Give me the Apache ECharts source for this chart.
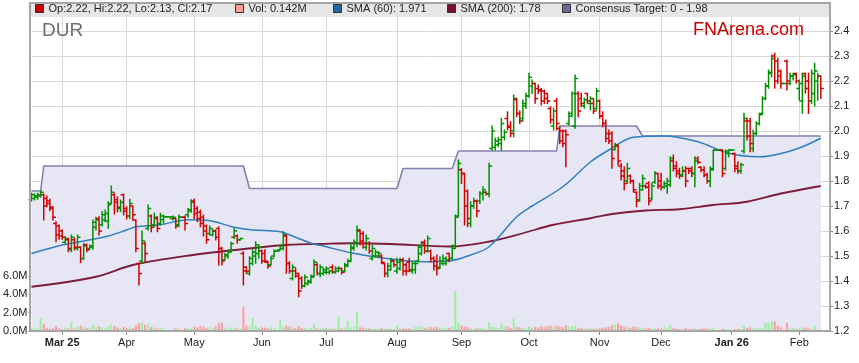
<!DOCTYPE html>
<html><head><meta charset="utf-8">
<script src="https://cdn.jsdelivr.net/npm/echarts@6/dist/echarts.min.js"></script>
<style>html,body{margin:0;padding:0;background:#fff}#c{width:859px;height:363px}</style>
</head><body><div id="c"></div>
<script>
// ---- categories: every weekday (the chart's x scale) ----
const firstDay = '2025-02-17', lastDay = '2026-02-16';
const categories = [];
for (let d = new Date(firstDay + 'T00:00:00Z'); d <= new Date(lastDay + 'T00:00:00Z'); d.setUTCDate(d.getUTCDate() + 1)) {
  const w = d.getUTCDay();
  if (w !== 0 && w !== 6) categories.push(d.toISOString().slice(0, 10));
}
const monthLabels = ['Mar 25','Apr','May','Jun','Jul','Aug','Sep','Oct','Nov','Dec','Jan 26','Feb'];
const priceTicks = [1.2,1.3,1.4,1.5,1.6,1.7,1.8,1.9,2.0,2.1,2.2,2.3,2.4];
const volTicks = [0,2,4,6];

// ---- daily bars [open, high, low, close] (holidays flat) ----
const ohlc = [
[1.725,1.751,1.72,1.745],[1.73,1.748,1.724,1.74],[1.735,1.751,1.727,1.745],[1.74,1.761,1.735,1.755],[1.745,1.748,1.644,1.70],
[1.73,1.74,1.697,1.71],[1.72,1.727,1.681,1.69],[1.695,1.697,1.644,1.655],[1.63,1.637,1.557,1.585],[1.62,1.624,1.567,1.58],
[1.60,1.604,1.567,1.575],[1.555,1.577,1.551,1.57],[1.565,1.571,1.517,1.53],[1.525,1.584,1.517,1.575],[1.565,1.571,1.524,1.535],
[1.53,1.584,1.524,1.575],[1.535,1.537,1.473,1.49],[1.49,1.551,1.487,1.54],[1.545,1.548,1.517,1.525],[1.53,1.544,1.527,1.54],
[1.535,1.644,1.527,1.635],[1.615,1.655,1.604,1.645],[1.65,1.657,1.584,1.60],[1.625,1.677,1.62,1.665],[1.645,1.684,1.637,1.67],
[1.64,1.717,1.611,1.705],[1.71,1.78,1.71,1.755],[1.745,1.751,1.668,1.715],[1.725,1.737,1.677,1.695],[1.69,1.724,1.677,1.715],
[1.745,1.748,1.664,1.68],[1.69,1.697,1.648,1.66],[1.66,1.727,1.65,1.71],[1.70,1.70,1.644,1.665],[1.644,1.644,1.517,1.53],
[1.47,1.471,1.384,1.43],[1.48,1.60,1.471,1.56],[1.55,1.555,1.477,1.51],[1.61,1.704,1.604,1.69],[1.66,1.664,1.597,1.615],
[1.625,1.671,1.617,1.655],[1.65,1.657,1.597,1.61],[1.63,1.671,1.624,1.66],[1.645,1.664,1.631,1.657],[1.657,1.657,1.657,1.657],
[1.657,1.657,1.657,1.657],[1.65,1.66,1.644,1.655],[1.65,1.651,1.611,1.62],[1.625,1.664,1.617,1.655],[1.655,1.655,1.655,1.655],
[1.655,1.66,1.604,1.63],[1.665,1.69,1.655,1.685],[1.68,1.725,1.675,1.715],[1.72,1.728,1.65,1.67],[1.69,1.697,1.637,1.65],
[1.675,1.684,1.617,1.63],[1.655,1.664,1.58,1.60],[1.62,1.624,1.551,1.565],[1.59,1.62,1.584,1.61],[1.585,1.607,1.58,1.60],
[1.60,1.604,1.564,1.575],[1.61,1.617,1.464,1.53],[1.53,1.535,1.464,1.48],[1.485,1.511,1.484,1.505],[1.50,1.524,1.491,1.515],
[1.52,1.555,1.515,1.55],[1.575,1.611,1.57,1.60],[1.58,1.584,1.551,1.565],[1.565,1.571,1.564,1.57],[1.51,1.517,1.384,1.44],
[1.455,1.457,1.431,1.44],[1.43,1.497,1.424,1.49],[1.47,1.524,1.464,1.515],[1.50,1.557,1.471,1.545],[1.51,1.544,1.491,1.535],
[1.52,1.524,1.471,1.48],[1.51,1.525,1.475,1.48],[1.475,1.477,1.451,1.46],[1.465,1.497,1.464,1.49],[1.50,1.524,1.497,1.52],
[1.52,1.52,1.52,1.52],[1.525,1.544,1.524,1.54],[1.53,1.597,1.524,1.585],[1.58,1.584,1.431,1.47],[1.47,1.477,1.431,1.44],
[1.41,1.464,1.404,1.455],[1.44,1.45,1.415,1.42],[1.43,1.431,1.337,1.36],[1.41,1.417,1.371,1.38],[1.38,1.424,1.377,1.415],
[1.39,1.404,1.384,1.40],[1.395,1.424,1.391,1.415],[1.42,1.484,1.417,1.475],[1.465,1.471,1.424,1.43],[1.43,1.464,1.417,1.455],
[1.43,1.451,1.424,1.445],[1.435,1.457,1.428,1.45],[1.435,1.444,1.428,1.44],[1.455,1.464,1.431,1.435],[1.435,1.457,1.431,1.45],
[1.44,1.457,1.437,1.45],[1.45,1.451,1.428,1.435],[1.44,1.471,1.437,1.465],[1.46,1.487,1.457,1.48],[1.48,1.551,1.477,1.535],
[1.53,1.564,1.524,1.555],[1.55,1.62,1.537,1.605],[1.60,1.604,1.544,1.56],[1.59,1.597,1.531,1.55],[1.535,1.584,1.524,1.57],
[1.55,1.557,1.511,1.52],[1.49,1.544,1.484,1.53],[1.50,1.524,1.497,1.515],[1.50,1.517,1.495,1.51],[1.50,1.504,1.471,1.475],
[1.47,1.471,1.417,1.43],[1.43,1.471,1.417,1.46],[1.445,1.491,1.444,1.48],[1.48,1.484,1.457,1.465],[1.44,1.491,1.431,1.475],
[1.45,1.491,1.444,1.48],[1.485,1.491,1.424,1.44],[1.465,1.471,1.424,1.44],[1.475,1.491,1.437,1.445],[1.44,1.477,1.431,1.47],
[1.445,1.477,1.431,1.47],[1.48,1.544,1.477,1.535],[1.51,1.557,1.504,1.55],[1.555,1.564,1.511,1.52],[1.52,1.58,1.515,1.57],
[1.52,1.524,1.477,1.49],[1.49,1.497,1.444,1.46],[1.48,1.504,1.424,1.45],[1.455,1.497,1.45,1.48],[1.47,1.504,1.464,1.49],
[1.47,1.497,1.464,1.485],[1.51,1.511,1.477,1.49],[1.49,1.544,1.488,1.53],[1.54,1.664,1.53,1.655],[1.66,1.884,1.657,1.87],
[1.845,1.85,1.79,1.83],[1.83,1.831,1.624,1.70],[1.76,1.764,1.617,1.65],[1.63,1.717,1.617,1.70],[1.70,1.731,1.691,1.72],
[1.72,1.724,1.657,1.68],[1.72,1.757,1.71,1.75],[1.75,1.777,1.724,1.765],[1.755,1.757,1.744,1.748],[1.75,1.871,1.737,1.86],
[1.93,2.02,1.924,2.00],[1.935,1.971,1.924,1.96],[1.945,1.975,1.937,1.965],[1.95,2.051,1.924,2.03],[1.975,2.004,1.964,1.995],
[2.05,2.077,2.004,2.015],[2.02,2.037,1.977,1.99],[2.00,2.144,1.977,2.13],[2.125,2.131,2.057,2.07],[2.07,2.08,2.03,2.04],
[2.05,2.124,2.04,2.11],[2.10,2.151,2.09,2.14],[2.14,2.231,2.135,2.215],[2.18,2.204,2.15,2.19],[2.19,2.191,2.111,2.13],
[2.17,2.184,2.15,2.16],[2.165,2.17,2.104,2.12],[2.16,2.164,2.11,2.13],[2.15,2.15,2.11,2.12],[2.09,2.097,2.031,2.045],
[2.02,2.091,2.004,2.08],[2.12,2.131,2.004,2.03],[2.01,2.017,1.95,1.96],[2.00,2.004,1.937,1.95],[2.00,2.004,1.857,1.985],
[2.03,2.077,2.024,2.07],[2.06,2.157,2.057,2.15],[2.02,2.224,2.011,2.21],[2.15,2.157,2.057,2.08],[2.13,2.151,2.097,2.11],
[2.10,2.131,2.091,2.125],[2.15,2.151,2.111,2.12],[2.11,2.137,2.084,2.13],[2.11,2.13,2.07,2.08],[2.09,2.171,2.085,2.16],
[2.12,2.124,2.051,2.06],[2.06,2.077,2.017,2.03],[2.03,2.044,1.957,1.97],[1.99,2.004,1.95,1.96],[1.99,1.997,1.851,1.89],
[1.925,1.951,1.924,1.945],[1.94,1.944,1.864,1.88],[1.86,1.87,1.804,1.82],[1.84,1.857,1.764,1.79],[1.80,1.871,1.791,1.85],
[1.82,1.824,1.791,1.80],[1.80,1.804,1.757,1.765],[1.755,1.757,1.697,1.72],[1.725,1.791,1.72,1.78],[1.765,1.824,1.764,1.81],
[1.78,1.784,1.771,1.775],[1.79,1.797,1.704,1.72],[1.73,1.791,1.725,1.78],[1.795,1.837,1.791,1.83],[1.83,1.831,1.77,1.78],
[1.80,1.831,1.764,1.775],[1.775,1.797,1.771,1.79],[1.78,1.811,1.751,1.80],[1.785,1.897,1.777,1.89],[1.88,1.904,1.84,1.85],
[1.86,1.877,1.817,1.83],[1.84,1.851,1.811,1.82],[1.825,1.857,1.817,1.84],[1.84,1.857,1.777,1.80],[1.85,1.851,1.83,1.84],
[1.85,1.857,1.817,1.83],[1.83,1.897,1.777,1.88],[1.89,1.897,1.87,1.875],[1.855,1.857,1.837,1.845],[1.845,1.857,1.817,1.825],
[1.825,1.831,1.791,1.80],[1.80,1.857,1.777,1.845],[1.85,1.924,1.844,1.924],[1.924,1.924,1.924,1.924],[1.924,1.924,1.924,1.924],
[1.924,1.924,1.817,1.83],[1.85,1.924,1.844,1.92],[1.91,1.924,1.897,1.924],[1.924,1.924,1.924,1.924],[1.91,1.911,1.837,1.85],
[1.86,1.877,1.831,1.84],[1.84,1.871,1.831,1.865],[1.92,2.071,1.911,2.05],[2.04,2.051,1.964,1.98],[2.04,2.051,1.917,1.95],
[1.93,2.004,1.917,1.99],[1.99,2.037,1.985,2.03],[2.03,2.071,2.024,2.065],[2.07,2.137,2.067,2.13],[2.13,2.191,2.125,2.18],
[2.18,2.244,2.171,2.235],[2.23,2.304,2.217,2.29],[2.30,2.311,2.171,2.20],[2.28,2.291,2.191,2.22],[2.24,2.244,2.171,2.19],
[2.19,2.19,2.19,2.19],[2.28,2.284,2.164,2.20],[2.19,2.231,2.185,2.22],[2.22,2.231,2.204,2.225],[2.23,2.231,2.191,2.20],
[2.17,2.204,2.124,2.19],[2.12,2.231,2.071,2.22],[2.23,2.231,2.151,2.17],[2.20,2.231,2.07,2.12],[2.12,2.244,2.11,2.23],
[2.15,2.271,2.10,2.24],[2.20,2.231,2.124,2.22],[2.22,2.22,2.13,2.17]
];

// ---- daily volume (millions) ----
const volumes = [
0.35,0.25,0.3,1.45,0.8,0.35,0.25,0.3,0.5,0.3,
0.2,0.35,0.3,1.0,0.3,0.45,0.6,0.45,0.3,0.35,
0.7,0.4,0.5,0.4,0.3,0.5,0.72,0.55,0.4,0.3,
0.45,0.3,0.4,0.3,0.6,0.85,0.9,0.7,0.8,0.45,
0.4,0.3,0.35,0.25,0,0,0.2,0.3,0.25,0,
0.3,0.35,0.3,0.45,0.4,0.6,0.5,0.35,0.45,0.3,
0.5,0.85,0.95,0.4,0.3,0.35,0.4,0.3,0.25,2.65,
0.6,0.45,1.45,0.6,0.35,0.4,0.35,0.3,0.4,0.3,
0,1.2,0.5,0.6,0.5,0.4,0.3,0.55,0.35,0.3,
0.25,0.3,0.75,0.3,0.25,0.3,0.35,0.3,0.25,0.3,
1.55,0.3,0.35,1.1,0.4,0.5,2.1,0.4,0.35,0.3,
0.3,0.25,0.2,0.25,0.3,0.2,0.25,0.3,0.2,0.6,
0.3,0.3,0.25,0.3,0.2,0.45,0.55,0.45,0.35,0.4,
0.45,0.4,0.45,0.35,0.3,0.4,0.35,0.5,4.35,0.9,
0.6,0.5,0.45,0.3,0.25,0.3,0.35,0.3,0.2,0.9,
0.5,0.4,0.35,0.9,0.45,0.5,0.35,1.3,0.45,0.4,
0.35,0.3,0.5,0.35,0.45,0.4,0.5,0.4,0.55,0.6,
0.5,0.55,0.5,0.45,0.6,0.5,0.55,0.6,0.35,0.3,
0.3,0.25,0.3,0.25,0.3,0.3,0.35,0.4,0.45,0.65,
0.7,0.82,0.6,0.5,0.45,0.35,0.5,0.45,0.4,0.35,
0.3,0.35,0.25,0.3,0.3,0.25,0.45,0.3,0.65,0.3,
0.25,0.2,0.25,0.3,0.2,0.25,0.35,0.2,0.25,0.3,
0.25,0.3,0.35,0,0,0.25,0.2,0.15,0,0.2,
0.25,0.2,0.55,0.35,0.4,0.3,0.35,0.3,0.3,0.9,
0.85,1.1,1.05,0.6,0.4,0,0.9,0.35,0.3,0.25,
0.3,0.35,0.4,0.3,0.25,0.55,0.2,0.142
];

// ---- moving averages read at points [day index, value] ----
const sma60 = [[0,1.51],[10,1.544],[18,1.562],[25,1.58],[31,1.604],[34,1.617],[42,1.625],[51,1.645],[57,1.643],[66,1.615],[72,1.604],[81,1.597],[86,1.575],[92,1.547],[95,1.54],[104,1.513],[115,1.491],[128,1.477],[136,1.48],[143,1.504],[149,1.537],[158,1.657],[163,1.70],[173,1.777],[182,1.876],[188,1.924],[196,1.975],[206,1.98],[217,1.957],[227,1.911],[237,1.897],[245,1.913],[251,1.937],[257,1.971]];
const sma200 = [[0,1.377],[21,1.417],[33,1.464],[52,1.503],[73,1.533],[84,1.545],[94,1.548],[104,1.551],[117,1.548],[136,1.538],[150,1.56],[160,1.591],[170,1.625],[182,1.651],[189,1.668],[200,1.682],[211,1.687],[222,1.704],[233,1.717],[244,1.75],[257,1.78]];
// ---- consensus target steps [day index, value] ----
const target = [[0,1.76],[3,1.76],[4,1.86],[69,1.86],[71,1.77],[119,1.77],[121,1.85],[137,1.85],[139,1.92],[171,1.92],[172,2.02],[197,2.02],[199,1.98],[257,1.98]];

const FONT = '"Liberation Sans", Arial, sans-serif';
const isStart = categories.map((c, i) => i > 0 && c.slice(5, 7) !== categories[i - 1].slice(5, 7));
const startLabel = {}; let m = 0;
isStart.forEach((s, i) => { if (s) startLabel[i] = monthLabels[m++]; });

const UP = '#009000', DOWN = '#d40000';
function renderOHLC(params, api) {
  const i = api.value(0);
  const o = api.coord([i, api.value(1)]);
  const h = api.coord([i, api.value(2)]);
  const l = api.coord([i, api.value(3)]);
  const c = api.coord([i, api.value(4)]);
  const col = api.value(4) >= api.value(1) ? UP : DOWN;
  const x = o[0], tw = 3, st = {stroke: col, lineWidth: 1.5};
  return {type: 'group', children: [
    {type: 'line', shape: {x1: x, y1: h[1] - 0.5, x2: x, y2: l[1] + 0.5}, style: st},
    {type: 'line', shape: {x1: x - tw, y1: o[1], x2: x, y2: o[1]}, style: st},
    {type: 'line', shape: {x1: x, y1: c[1], x2: x + tw, y2: c[1]}, style: st}
  ]};
}

const names = {
  ohlc: 'Op:2.22, Hi:2.22, Lo:2.13, Cl:2.17',
  vol: 'Vol: 0.142M',
  s60: 'SMA (60): 1.971',
  s200: 'SMA (200): 1.78',
  tgt: 'Consensus Target: 0 - 1.98'
};
function leg(name, color, left) {
  return {data: [{name: name, icon: 'rect', itemStyle: {color: color, borderColor: '#333', borderWidth: 1}}],
    left: left, top: 3, padding: 0, itemWidth: 8, itemHeight: 8, selectedMode: false, z: 110,
    textStyle: {fontSize: 11, color: '#222', fontFamily: FONT}};
}

const chart = echarts.init(document.getElementById('c'), null, {renderer: 'canvas'});
chart.setOption({
  animation: false,
  backgroundColor: '#fff',
  grid: {left: 31, right: 29, top: 6, bottom: 32},
  legend: [leg(names.ohlc, '#cc0000', 35), leg(names.vol, '#ff9c9c', 235), leg(names.s60, '#1f66a8', 333),
           leg(names.s200, '#7a1030', 447), leg(names.tgt, '#6a6aa0', 562)],
  xAxis: {
    type: 'category', data: categories, boundaryGap: false,
    axisLine: {show: false},
    axisTick: {show: true, interval: (i) => isStart[i], length: 4, lineStyle: {color: '#888'}},
    axisLabel: {interval: (i) => isStart[i], margin: 6, fontSize: 11, color: '#222', fontFamily: FONT,
      formatter: (v, i) => { const t = startLabel[i] || ''; return t.indexOf(' ') > 0 ? '{b|' + t + '}' : t; },
      rich: {b: {fontWeight: 'bold', fontSize: 11, color: '#222', fontFamily: FONT}}},
    splitLine: {show: true, interval: (i) => isStart[i], lineStyle: {color: '#d9d9d9', width: 1}}
  },
  yAxis: [
    {type: 'value', position: 'right', min: 1.2, max: 2.5, interval: 0.1,
     axisLine: {show: false},
     axisTick: {show: true, length: 3, lineStyle: {color: '#888'}, customValues: priceTicks},
     axisLabel: {customValues: priceTicks, margin: 4, fontSize: 11, color: '#222', fontFamily: FONT,
       formatter: (v) => v > 2.45 ? '' : v.toFixed(1)},
     splitLine: {show: true, lineStyle: {color: '#d9d9d9', width: 1}}},
    {type: 'value', position: 'left', min: 0, max: 35.33,
     axisLine: {show: false}, splitLine: {show: false},
     axisTick: {show: true, length: 3, lineStyle: {color: '#888'}, customValues: volTicks},
     axisLabel: {customValues: volTicks, margin: 4, fontSize: 11, color: '#222', fontFamily: FONT,
       formatter: (v) => v > 6.5 ? '' : v.toFixed(1) + 'M'}}
  ],
  series: [
    {name: names.tgt, type: 'line', yAxisIndex: 0, data: target, symbol: 'none', z: 1,
     lineStyle: {color: '#8282b4', width: 1.6}, itemStyle: {color: '#6a6aa0'},
     areaStyle: {color: '#e6e6f5', origin: 'start', opacity: 1}},
    {name: names.vol, type: 'bar', yAxisIndex: 1, barWidth: 2, z: 2, itemStyle: {color: '#ff9c9c'},
     data: volumes.map((v, i) => {
       const r = ohlc[i];
       const col = r[3] > r[0] ? '#9cf09c' : (r[3] < r[0] ? '#ff9c9c' : '#8c8c8c');
       return {value: v, itemStyle: {color: col}};
     })},
    {name: names.s200, type: 'line', yAxisIndex: 0, data: sma200, smooth: 0.35, symbol: 'none', z: 3,
     lineStyle: {color: '#7d1b3b', width: 1.8}, itemStyle: {color: '#7a1030'}},
    {name: names.s60, type: 'line', yAxisIndex: 0, data: sma60, smooth: 0.35, symbol: 'none', z: 3,
     lineStyle: {color: '#2f80c2', width: 1.5}, itemStyle: {color: '#1f66a8'}},
    {name: names.ohlc, type: 'custom', yAxisIndex: 0, z: 4, renderItem: renderOHLC,
     itemStyle: {color: '#cc0000'},
     encode: {x: 0, y: [1, 2, 3, 4]},
     data: ohlc.map((r, i) => [i, r[0], r[1], r[2], r[3]])}
  ],
  graphic: [
    {type: 'rect', z: 100, shape: {x: 31, y: 3, width: 799, height: 14}, style: {fill: '#e6e6e6'}},
    {type: 'polyline', z: 101, shape: {points: [[30, 331], [30, 3], [830, 3], [830, 331], [30, 331]]},
     style: {stroke: '#a6a6a6', lineWidth: 2, fill: null}},
    {type: 'text', z: 101, left: 42, top: 21, style: {text: 'DUR', fontSize: 19, fill: '#6e6e6e', fontFamily: FONT}},
    {type: 'text', z: 101, left: 693, top: 21, style: {text: 'FNArena.com', fontSize: 18, fill: '#cc0000', fontFamily: FONT}}
  ]
});
</script></body></html>
